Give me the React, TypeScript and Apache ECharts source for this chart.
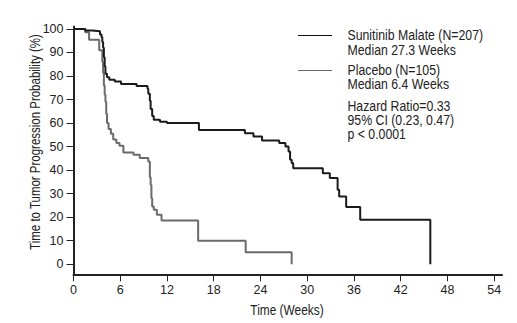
import React, { useEffect, useRef } from "react";
import * as echarts from "echarts";

const sunitinibWeeks = [0, 1.5, 2.4, 3.4, 3.6, 3.7, 3.8, 3.9, 4.0, 4.1, 4.3, 4.6, 5.3, 6.1, 8.1, 9.5, 9.6, 9.8, 9.9, 10.1, 10.3, 11.1, 12.0, 16.1, 22.0, 23.1, 24.2, 26.4, 27.2, 27.6, 27.8, 28.0, 28.2, 32.0, 32.9, 33.9, 34.1, 35.0, 36.8, 45.8];
const sunitinibPct = [100, 99.3, 99, 97.6, 96.5, 94.5, 92, 88, 84, 81, 79.5, 78.4, 77.7, 76.6, 75.8, 74.6, 72.5, 69.5, 66, 63, 61.4, 60.5, 60, 57, 55.7, 54.3, 52.6, 51.5, 50, 47.9, 44.4, 43, 40.8, 38.7, 36.6, 31.6, 28.8, 24.3, 18.9, 0];

const placeboWeeks = [0, 1.5, 2.0, 3.3, 3.7, 3.8, 3.9, 4.0, 4.1, 4.2, 4.3, 4.5, 4.8, 5.1, 5.5, 5.9, 6.4, 7.7, 8.5, 9.6, 9.8, 9.9, 10.0, 10.1, 10.3, 10.7, 11.3, 16.0, 22.1, 28.0];
const placeboPct = [100, 98.6, 95.4, 90.9, 86, 81.3, 76, 72, 69, 64, 60, 57.5, 55.5, 53, 51.5, 50.3, 47.5, 46.5, 45.1, 43.7, 37, 33.7, 28, 24.5, 23.1, 21, 18.6, 10, 5.1, 0];

const xTicks = [0, 6, 12, 18, 24, 30, 36, 42, 48, 54];
const yTicks = [0, 10, 20, 30, 40, 50, 60, 70, 80, 90, 100];

const legendLines = [
  "Sunitinib Malate (N=207)",
  "Median 27.3 Weeks",
  "Placebo (N=105)",
  "Median 6.4 Weeks",
  "Hazard Ratio=0.33",
  "95% CI (0.23, 0.47)",
  "p < 0.0001",
];

const FONT = "'Liberation Sans', Arial, sans-serif";
const INK = "#222";
const NARROW = 0.82;

export default function App() {
  const ref = useRef<HTMLDivElement>(null);
  useEffect(() => {
    if (!ref.current) return;
    const chart = echarts.init(ref.current, null, { renderer: "svg" });
    const legendY = [35, 50, 70, 84.5, 106, 120, 134];
    const textEls = legendLines.map((t, i) => ({
      type: "text",
      x: 347.5,
      y: legendY[i],
      scaleX: NARROW,
      style: { text: t, fill: INK, font: `15px ${FONT}`, textVerticalAlign: "middle", textAlign: "left" },
    }));
    chart.setOption({
      animation: false,
      backgroundColor: "#fff",
      grid: { left: 73.5, right: 15, top: 26.6, bottom: 48.7, containLabel: false },
      xAxis: {
        type: "value",
        min: 0,
        max: 55,
        axisLine: { show: true, onZero: false, lineStyle: { color: INK, width: 2 } },
        axisTick: { show: true, length: 7, customValues: xTicks, lineStyle: { color: INK, width: 1 } },
        axisLabel: { customValues: xTicks, color: INK, fontSize: 12.5, fontFamily: FONT, margin: 9 },
        splitLine: { show: false },
      },
      yAxis: {
        type: "value",
        min: -4.3,
        max: 101,
        axisLine: { show: true, onZero: false, lineStyle: { color: INK, width: 2 } },
        axisTick: { show: true, length: 7, customValues: yTicks, lineStyle: { color: INK, width: 1 } },
        axisLabel: { customValues: yTicks, color: INK, fontSize: 12.5, fontFamily: FONT, margin: 10 },
        splitLine: { show: false },
      },
      series: [
        {
          type: "line",
          name: "Sunitinib Malate",
          step: "end",
          symbol: "none",
          data: sunitinibWeeks.map((w, i) => [w, sunitinibPct[i]]),
          lineStyle: { color: "#1a1a1a", width: 2 },
          z: 3,
        },
        {
          type: "line",
          name: "Placebo",
          step: "end",
          symbol: "none",
          data: placeboWeeks.map((w, i) => [w, placeboPct[i]]),
          lineStyle: { color: "#6a6a6a", width: 2 },
          z: 2,
        },
      ],
      graphic: [
        { type: "line", shape: { x1: 298, y1: 35.5, x2: 332, y2: 35.5 }, style: { stroke: "#111", lineWidth: 1 } },
        { type: "line", shape: { x1: 298, y1: 70.5, x2: 332, y2: 70.5 }, style: { stroke: "#6a6a6a", lineWidth: 1 } },
        ...textEls,
        {
          type: "text",
          x: 35,
          y: 142,
          rotation: Math.PI / 2,
          scaleX: NARROW,
          style: {
            text: "Time to Tumor Progression Probability (%)",
            fill: INK,
            font: `14px ${FONT}`,
            textAlign: "center",
            textVerticalAlign: "middle",
          },
        },
        {
          type: "text",
          x: 287,
          y: 310.5,
          scaleX: NARROW,
          style: { text: "Time (Weeks)", fill: INK, font: `14.5px ${FONT}`, textAlign: "center", textVerticalAlign: "middle" },
        },
      ],
    });
    return () => chart.dispose();
  }, []);
  return <div ref={ref} style={{ width: 517, height: 323, position: "absolute", left: 0, top: 0 }} />;
}
